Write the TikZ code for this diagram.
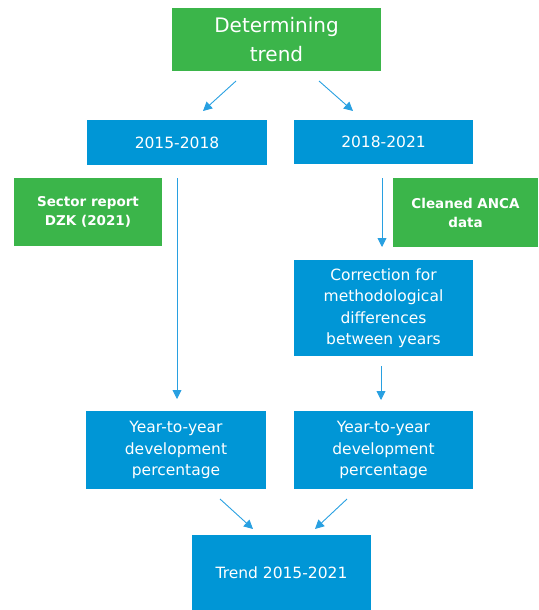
\documentclass[tikz,border=0pt]{standalone}
\usepackage{fontspec}
\setmainfont{DejaVu Sans}
\usetikzlibrary{arrows.meta}
\definecolor{boxblue}{RGB}{0,150,214}
\definecolor{boxgreen}{RGB}{59,181,74}
\definecolor{arrowblue}{RGB}{40,160,225}
\tikzset{
  bluebox/.style={fill=boxblue, draw=none, text=white, inner sep=0pt, align=center,
    font=\fontsize{15.5}{21.5}\selectfont},
  greenbox/.style={fill=boxgreen, draw=none, text=white, inner sep=0pt, align=center,
    font=\fontsize{13.5}{19}\selectfont\bfseries},
  titlebox/.style={fill=boxgreen, draw=none, text=white, inner sep=0pt, align=center,
    font=\fontsize{20}{29}\selectfont},
  conn/.style={draw=arrowblue, line width=0.9pt, -{Triangle[length=9pt,width=9pt]}}
}
\begin{document}
\begin{tikzpicture}[x=1pt,y=-1pt]
\useasboundingbox (0,0) rectangle (538,610);
% boxes (centre, size)
\node[titlebox, minimum width=209pt, minimum height=63pt] (top) at (276.5,39.5) {Determining\\trend};
\node[bluebox, minimum width=180pt, minimum height=45pt] (p1) at (177,142.5) {2015-2018};
\node[bluebox, minimum width=179pt, minimum height=44pt] (p2) at (383.5,142) {2018-2021};
\node[greenbox, minimum width=148pt, minimum height=68pt] (src1) at (88,212) {Sector report\\DZK (2021)};
\node[greenbox, minimum width=145pt, minimum height=69pt] (src2) at (465.5,212.5) {Cleaned ANCA\\data};
\node[bluebox, minimum width=179pt, minimum height=96pt] (corr) at (383.5,308) {Correction for\\methodological\\differences\\between years};
\node[bluebox, minimum width=180pt, minimum height=78pt] (y1) at (176,450) {Year-to-year\\development\\percentage};
\node[bluebox, minimum width=179pt, minimum height=78pt] (y2) at (383.5,450) {Year-to-year\\development\\percentage};
\node[bluebox, minimum width=179pt, minimum height=76pt] (trend) at (281.5,573) {Trend 2015-2021};
% connector end points
\coordinate (a1s) at (236,81);  \coordinate (a1e) at (203,111);
\coordinate (a2s) at (319,81);  \coordinate (a2e) at (353,111);
\coordinate (l1s) at (177,178); \coordinate (l1e) at (177,399);
\coordinate (r1s) at (382,178); \coordinate (r1e) at (382,247);
\coordinate (r2s) at (381,366); \coordinate (r2e) at (381,400);
\coordinate (b1s) at (220,499); \coordinate (b1e) at (253,529);
\coordinate (b2s) at (347,499); \coordinate (b2e) at (315,529);
\draw[conn] (a1s) -- (a1e);
\draw[conn] (a2s) -- (a2e);
\draw[conn] (l1s) -- (l1e);
\draw[conn] (r1s) -- (r1e);
\draw[conn] (r2s) -- (r2e);
\draw[conn] (b1s) -- (b1e);
\draw[conn] (b2s) -- (b2e);
\end{tikzpicture}
\end{document}
